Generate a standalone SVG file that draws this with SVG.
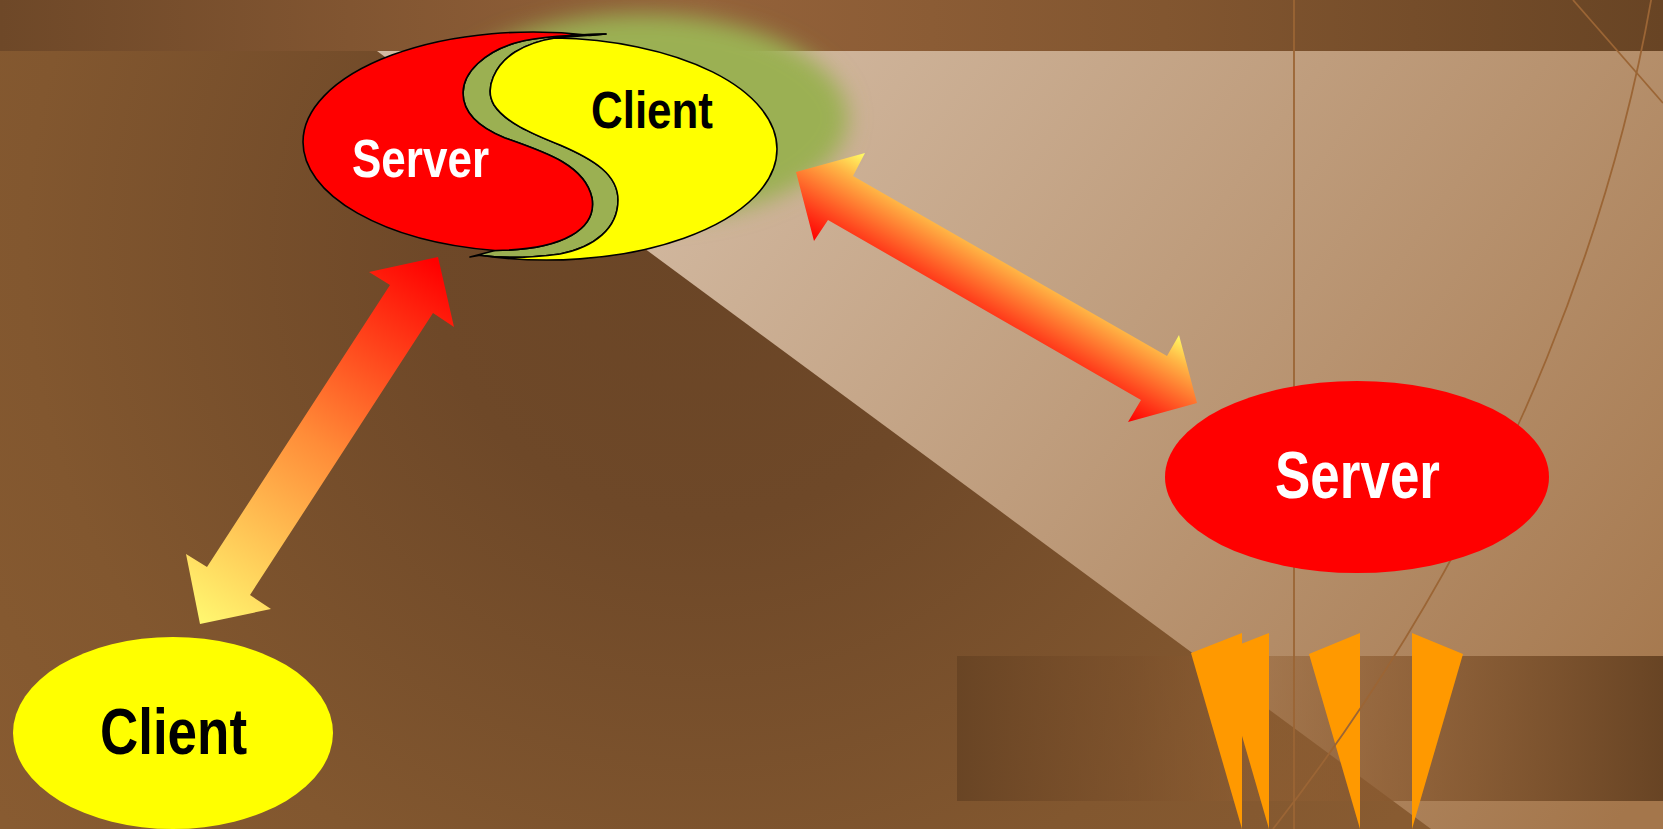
<svg xmlns="http://www.w3.org/2000/svg" width="1663" height="829" viewBox="0 0 1663 829">
  <defs>
    <radialGradient id="gDark" gradientUnits="userSpaceOnUse" cx="700" cy="250" r="900">
      <stop offset="0" stop-color="#6a4526"/>
      <stop offset="0.3" stop-color="#6e4828"/>
      <stop offset="0.75" stop-color="#82572f"/>
      <stop offset="1" stop-color="#885b31"/>
    </radialGradient>
    <linearGradient id="gTop" gradientUnits="userSpaceOnUse" x1="0" y1="0" x2="1663" y2="0">
      <stop offset="0" stop-color="#6e4828"/>
      <stop offset="0.42" stop-color="#94623a"/>
      <stop offset="0.7" stop-color="#825630"/>
      <stop offset="1" stop-color="#684424"/>
    </linearGradient>
    <linearGradient id="gLight" gradientUnits="userSpaceOnUse" x1="700" y1="51" x2="1663" y2="760">
      <stop offset="0" stop-color="#d3baa2"/>
      <stop offset="1" stop-color="#a4764b"/>
    </linearGradient>
    <linearGradient id="gBand" gradientUnits="userSpaceOnUse" x1="957" y1="0" x2="1663" y2="0">
      <stop offset="0" stop-color="#684424" stop-opacity="0.95"/>
      <stop offset="0.25" stop-color="#7a4f2a" stop-opacity="0.6"/>
      <stop offset="0.42" stop-color="#905f33" stop-opacity="0.45"/>
      <stop offset="0.6" stop-color="#8a5a30" stop-opacity="0.7"/>
      <stop offset="1" stop-color="#684424" stop-opacity="1"/>
    </linearGradient>
    <linearGradient id="gArrow1" gradientUnits="userSpaceOnUse" x1="440" y1="265" x2="195" y2="620">
      <stop offset="0" stop-color="#ff0000"/>
      <stop offset="0.5" stop-color="#ff8c38"/>
      <stop offset="1" stop-color="#fff870"/>
    </linearGradient>
    <linearGradient id="gArrow2" gradientUnits="userSpaceOnUse" x1="865" y1="153" x2="814.5" y2="241.3">
      <stop offset="0" stop-color="#ffff66"/>
      <stop offset="0.26" stop-color="#ffb545"/>
      <stop offset="0.75" stop-color="#ff3a1a"/>
      <stop offset="1" stop-color="#ff0000"/>
    </linearGradient>
    <filter id="blur" x="-30%" y="-30%" width="160%" height="160%">
      <feGaussianBlur stdDeviation="11"/>
    </filter>
  </defs>
  <style>
    .deco { fill: none; stroke: #9b6535; stroke-width: 1.8; }
    .flag { fill: #ff9900; }
    .outl { stroke: #000000; stroke-width: 1.6; stroke-linejoin: round; }
    .lbl { font-family: "Liberation Sans Narrow", "Liberation Sans", Arial, sans-serif; font-weight: bold; }
  </style>

  <!-- background -->
  <rect x="0" y="0" width="1663" height="829" fill="url(#gDark)"/>
  <rect x="0" y="0" width="1663" height="51" fill="url(#gTop)"/>
  <polygon points="377,51 1663,51 1663,829 1431,829" fill="url(#gLight)"/>
  <rect x="957" y="656" width="706" height="145" fill="url(#gBand)"/>
  <g id="flags">
    <polygon class="flag" points="1218,653 1269,633 1269,829"/>
    <polygon class="flag" points="1191,653 1242,633 1242,829"/>
    <polygon class="flag" points="1309,654 1360,633 1360,829"/>
    <polygon class="flag" points="1412,633 1463,654 1412,829"/>
  </g>
  <line class="deco" x1="1294" y1="0" x2="1294" y2="829"/>
  <path class="deco" d="M 1652,-5 C 1620,180 1530,500 1273,829"/>
  <line class="deco" x1="1573" y1="0" x2="1663" y2="103"/>

  <!-- combined Server/Client node -->
  <g id="node-combined">
    <ellipse cx="640" cy="118" rx="208" ry="104" fill="#9bb052" filter="url(#blur)"/>
    <path class="outl" fill="#9bb052" d="M 606,34 C 575,35 540,36 515,43 C 485,52 463,72 463,93 C 463,113 478,127 505,138 C 545,152 585,165 592,198 C 597,228 565,250 495,250.5 L 470,257 L 480,255.2 C 500,258 530,258 560,254 C 595,247 618,228 618,200 C 618,175 595,160 560,145 C 530,133 505,122 494,105 C 484,88 495,65 515,52 C 530,43 542,40 555,38.07 Z"/>
    <path class="outl" fill="#ffff00" d="M 555,38.07 A 230 111 0 0 1 777,149 A 230 111 0 0 1 480,255.2 C 500,258 530,258 560,254 C 595,247 618,228 618,200 C 618,175 595,160 560,145 C 530,133 505,122 494,105 C 484,88 495,65 515,52 C 530,43 542,40 555,38.07 Z"/>
    <path class="outl" fill="#ff0000" d="M 495,250.5 A 230 110 0 0 1 303,142 A 230 110 0 0 1 590,35.4 L 606,34 C 575,35 540,36 515,43 C 485,52 463,72 463,93 C 463,113 478,127 505,138 C 545,152 585,165 592,198 C 597,228 565,250 495,250.5 Z"/>
    <text class="lbl" x="352" y="177" font-size="53" fill="#ffffff" textLength="137" lengthAdjust="spacingAndGlyphs">Server</text>
    <text class="lbl" x="591" y="128" font-size="52" fill="#000000" textLength="122" lengthAdjust="spacingAndGlyphs">Client</text>
  </g>

  <!-- right Server node -->
  <g id="node-server">
    <ellipse cx="1357" cy="477" rx="192" ry="96" fill="#ff0000"/>
    <text class="lbl" x="1275" y="498" font-size="66" fill="#ffffff" textLength="165" lengthAdjust="spacingAndGlyphs">Server</text>
  </g>

  <!-- bottom-left Client node -->
  <g id="node-client">
    <ellipse cx="173" cy="733" rx="160" ry="96" fill="#ffff00"/>
    <text class="lbl" x="100" y="754" font-size="65" fill="#000000" textLength="147" lengthAdjust="spacingAndGlyphs">Client</text>
  </g>

  <!-- connectors -->
  <g id="connectors">
    <polygon fill="url(#gArrow1)" points="438,257 454,327 433,313 250,595 271,609 200,624 186,554 207,567 390,285 369,272"/>
    <polygon fill="url(#gArrow2)" points="796,172 865,153 853,176 1167,356 1179,335 1197,403 1128,422 1141,400 828,220 814,241"/>
  </g>
</svg>
